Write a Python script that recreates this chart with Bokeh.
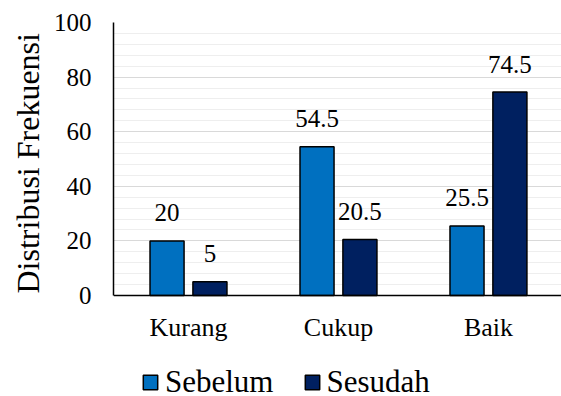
from bokeh.plotting import figure
from bokeh.models import ColumnDataSource, FixedTicker, Legend, LegendItem, Range1d, Span, Title
from bokeh.embed import file_html
from bokeh.resources import INLINE
from bokeh.core.properties import value

categories = ["Kurang", "Cukup", "Baik"]
sebelum = [20, 54.5, 25.5]
sesudah = [5, 20.5, 74.5]
series_names = ["Sebelum", "Sesudah"]
colors = ["#0070C0", "#002060"]
y_ticks = [0, 20, 40, 60, 80, 100]
y_minor = [v for v in range(0, 101, 4) if v % 20 != 0]

FONT = "Liberation Serif"

xc = [i + 0.5 for i in range(len(categories))]
offset = 0.143
bar_w = 0.227

# frame runs to the bottom of the page; value 0 sits at y=295px
p = figure(width=561, height=396, output_backend="svg", toolbar_location=None,
           x_range=Range1d(0, 2.987), y_range=Range1d(-37, 100),
           min_border_left=113, min_border_right=0, min_border_top=22,
           min_border_bottom=0)
p.outline_line_color = None
p.background_fill_color = "white"
p.border_fill_color = "white"

# gridlines
p.xgrid.grid_line_color = None
p.ygrid.grid_line_color = "#d9d9d9"
p.ygrid.grid_line_width = 1
p.ygrid.minor_grid_line_color = "#eeeeee"
p.ygrid.minor_grid_line_width = 1

renderers = []
for vals, off, col in zip([sebelum, sesudah], [-offset, offset], colors):
    src = ColumnDataSource(dict(x=[c + off for c in xc], top=vals,
                                lbl=[f"{v:g}" for v in vals]))
    r = p.vbar(x="x", top="top", bottom=0, width=bar_w, source=src, fill_color=col,
               line_color="black", line_width=1.5)
    renderers.append(r)
    p.text(x="x", y="top", text="lbl", source=src, text_align="center",
           text_baseline="alphabetic", y_offset=-28, text_font=value(FONT),
           text_font_size="25px", text_color="black")

# category axis (baseline + labels)
p.add_layout(Span(location=0, dimension="width", line_color="black", line_width=1.5))
cat_src = ColumnDataSource(dict(x=xc, y=[0] * len(xc), t=categories))
p.text(x="x", y="y", text="t", source=cat_src, text_align="center",
       text_baseline="alphabetic", y_offset=32, text_font=value(FONT),
       text_font_size="26px", text_color="black")
p.xaxis.visible = False

# value axis
p.yaxis.ticker = FixedTicker(ticks=y_ticks, minor_ticks=y_minor)
p.yaxis.bounds = (0, 100)
p.yaxis.major_tick_line_color = None
p.yaxis.minor_tick_line_color = None
p.yaxis.axis_line_color = "black"
p.yaxis.axis_line_width = 1.5
p.yaxis.major_label_text_font = FONT
p.yaxis.major_label_text_font_size = "25px"
p.yaxis.major_label_text_color = "black"
p.yaxis.major_label_standoff = 16

ylab = Title(text="Distribusi Frekuensi", align="left", offset=103,
             text_font=FONT, text_font_size="32px", text_font_style="normal",
             text_color="black", standoff=10)
p.add_layout(ylab, "left")

legend = Legend(items=[LegendItem(label=n, renderers=[r]) for n, r in zip(series_names, renderers)],
                orientation="horizontal", location=(28, -4),
                label_text_font=FONT, label_text_font_size="31px", label_text_color="black",
                glyph_width=18, glyph_height=18, label_standoff=6, spacing=29,
                padding=0, margin=0, border_line_color=None, background_fill_alpha=0)
p.add_layout(legend, "center")

open("out.html", "w").write(file_html(p, INLINE))
